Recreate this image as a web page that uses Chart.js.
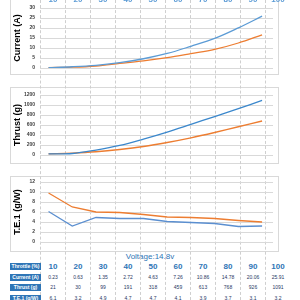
<!DOCTYPE html>
<html>
<head>
<meta charset="utf-8">
<script src="https://cdn.jsdelivr.net/npm/chart.js@4"></script>
<style>
  html, body { margin: 0; padding: 0; background: #fff; }
  body { width: 300px; height: 300px; position: relative; overflow: hidden; font-family: "Liberation Sans", Arial, sans-serif; }
  .box { position: absolute; left: 10px; width: 267px; border: 1px solid #d9d9d9; background: #fff; z-index: 0; }
  .vline { position: absolute; top: 0; height: 300px; width: 0; border-left: 1px dashed #cfcfcf; z-index: 1; }
  .wrap { position: absolute; left: 10px; width: 268px; height: 76px; z-index: 2; }
  .hdr { position: absolute; left: 10px; width: 31px; height: 7px; background: #2e75b6; color: #fff; font-size: 5px; font-weight: bold; line-height: 7px; text-align: center; z-index: 3; }
  .cell { position: absolute; width: 24px; margin-left: -12px; text-align: center; color: #1f3864; font-size: 5px; line-height: 7px; z-index: 3; }
  .big { color: #2e75b6; font-size: 8px; font-weight: bold; line-height: 9px; }
  .top { color: #5b9bd5; font-size: 8px; font-weight: bold; line-height: 9px; }
  #volt { position: absolute; left: 0; width: 300px; top: 252px; text-align: center; color: #2e75b6; font-size: 8px; }
</style>
</head>
<body>
<div class="box" style="top:-3px;height:76px"></div>
<div class="box" style="top:87px;height:75px"></div>
<div class="box" style="top:176px;height:74px"></div>
<div class="wrap"><canvas id="c1"></canvas></div>
<div class="wrap" style="top:87px"><canvas id="c2"></canvas></div>
<div class="wrap" style="top:174px"><canvas id="c3"></canvas></div>
<div id="volt">Voltage:14.8v</div>
<div id="table"></div>
<script>
const throttle = [10, 20, 30, 40, 50, 60, 70, 80, 90, 100]
const current = [0.23, 0.63, 1.35, 2.72, 4.63, 7.26, 10.86, 14.78, 20.06, 25.91]
const thrust = [21, 30, 99, 191, 318, 459, 613, 768, 926, 1091]
const efficiency = [6.1, 3.2, 4.9, 4.7, 4.7, 4.1, 3.9, 3.7, 3.1, 3.2]
// second (orange) series
const currentB = [0.2, 0.4, 1.0, 2.3, 3.6, 5.2, 7.2, 9.3, 12.5, 16.6]
const thrustB = [24, 38, 65, 110, 170, 250, 343, 450, 565, 680]
const efficiencyB = [9.8, 7.0, 6.0, 5.9, 5.5, 5.0, 4.9, 4.7, 4.3, 4.0]
const rowNames = ["Throttle (%)", "Current (A)", "Thrust (g)", "T.E.1 (g/W)"]

// dashed column separators, top label row and table
const colX = throttle.map((t, i) => 53 + i * 25)
let html = ""
colX.forEach(x => { html += '<div class="vline" style="left:' + (x - 13) + 'px"></div>' })
colX.forEach((x, i) => { html += '<div class="cell top" style="left:' + x + 'px;top:-5px">' + throttle[i] + '</div>' })
const rows = [throttle, current, thrust, efficiency]
rows.forEach((r, j) => {
  const y = 263 + j * 10.6
  html += '<div class="hdr" style="top:' + y + 'px">' + rowNames[j] + '</div>'
  r.forEach((v, i) => {
    html += '<div class="cell' + (j == 0 ? ' big' : '') + '" style="left:' + colX[i] + 'px;top:' + (j == 0 ? y - 1 : y) + 'px">' + v + '</div>'
  })
})
document.getElementById("table").innerHTML = html

function makeChart(id, title, a, b, max, step, smooth, blue) {
  const ctx = document.getElementById(id).getContext("2d")
  return new Chart(ctx, {
    type: 'line',
    data: {
      datasets: [
        { data: throttle.map((t, i) => ({ x: t, y: a[i] })), borderColor: blue, borderWidth: 1.3, pointRadius: 0, tension: smooth },
        { data: throttle.map((t, i) => ({ x: t, y: b[i] })), borderColor: "#ed7d31", borderWidth: 1.3, pointRadius: 0, tension: smooth }
      ]
    },
    options: {
      responsive: true,
      maintainAspectRatio: false,
      animation: false,
      layout: { padding: { top: 7, right: 5, bottom: 5, left: 0 } },
      plugins: { legend: { display: false }, tooltip: { enabled: false } },
      scales: {
        x: { type: 'linear', min: 6.4, max: 104.6, display: false },
        y: {
          min: 0, max: max,
          afterFit: s => { s.width = 30 },
          ticks: { stepSize: step, padding: 5, color: "#404040", callback: v => String(v), font: { size: 5, weight: 'bold', family: "Liberation Sans" } },
          grid: { color: "#d9d9d9", drawTicks: false },
          border: { display: false },
          title: { display: true, text: title, color: "#000", padding: { top: 2, bottom: 0 }, font: { size: 9, weight: 'bold', family: "Liberation Sans" } }
        }
      }
    }
  })
}

makeChart("c1", "Current (A)", current, currentB, 30, 5, 0.35, "#5b9bd5")
makeChart("c2", "Thrust (g)", thrust, thrustB, 1200, 200, 0.35, "#3a87cc")
makeChart("c3", "T.E.1 (g/W)", efficiency, efficiencyB, 12, 2, 0, "#5b8fd0")
</script>
</body>
</html>
